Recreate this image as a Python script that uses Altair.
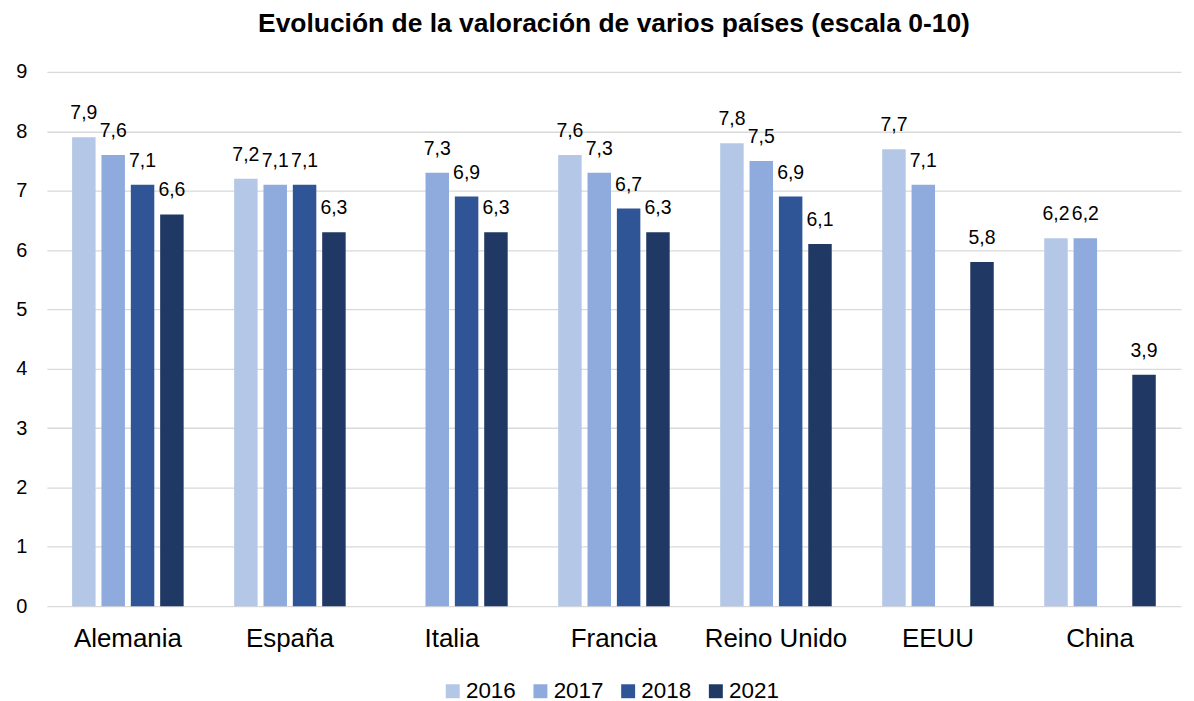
import altair as alt
import pandas as pd

paises = ["Alemania", "España", "Italia", "Francia", "Reino Unido", "EEUU", "China"]
anios = ["2016", "2017", "2018", "2021"]
v2016 = [7.9, 7.2, None, 7.6, 7.8, 7.7, 6.2]
v2017 = [7.6, 7.1, 7.3, 7.3, 7.5, 7.1, 6.2]
v2018 = [7.1, 7.1, 6.9, 6.7, 6.9, None, None]
v2021 = [6.6, 6.3, 6.3, 6.3, 6.1, 5.8, 3.9]
colores = ["#B4C7E7", "#8FAADC", "#2F5597", "#203864"]

rows = []
for anio, serie in zip(anios, [v2016, v2017, v2018, v2021]):
    for p, v in zip(paises, serie):
        if v is not None:
            rows.append({"pais": p, "anio": anio, "valor": v})
df = pd.DataFrame(rows)

font = "Liberation Sans"

x = alt.X("pais:N", sort=paises, scale=alt.Scale(domain=paises, paddingInner=0, paddingOuter=0),
          axis=alt.Axis(title=None, labelAngle=0, labelFontSize=26, labelColor="#000000",
                        labelFont=font, ticks=False, domain=False, labelPadding=19))
xo = alt.XOffset("anio:N", scale=alt.Scale(domain=anios, paddingInner=0.2, paddingOuter=0.86))
y = alt.Y("valor:Q", scale=alt.Scale(domain=[0, 9], nice=False),
          axis=alt.Axis(title=None, values=list(range(10)), labelFontSize=20, labelColor="#000000",
                        labelFont=font, ticks=False, domain=False, labelPadding=20,
                        gridColor="#D9D9D9", gridWidth=1.3, minExtent=35, maxExtent=35))

base = alt.Chart(df)
bars = base.mark_bar().encode(
    x=x, xOffset=xo, y=y,
    color=alt.Color("anio:N", scale=alt.Scale(domain=anios, range=colores),
                    legend=alt.Legend(title=None, orient="none", direction="horizontal",
                                      legendX=396, legendY=610,
                                      symbolType="square", symbolSize=196, symbolStrokeWidth=0,
                                      labelFontSize=22.5, labelFont=font, labelColor="#000000",
                                      labelOffset=2, columnPadding=13)),
)
labels = base.mark_text(dy=-24, baseline="middle", fontSize=19.5, font=font, color="#000000").transform_calculate(
    etiqueta="replace(format(datum.valor, '.1f'), '.', ',')"
).encode(x=x, xOffset=xo, y=y, text="etiqueta:N")

chart = (bars + labels).properties(
    width=1138, height=536,
    padding={"left": 4, "top": 1, "right": 5, "bottom": 5},
    title=alt.Title("Evolución de la valoración de varios países (escala 0-10)",
                    fontSize=26.5, font=font, fontWeight="bold", color="#000000", offset=25),
).configure_view(stroke=None)

chart.save("out.html", embed_options={"renderer": "svg", "actions": False})
